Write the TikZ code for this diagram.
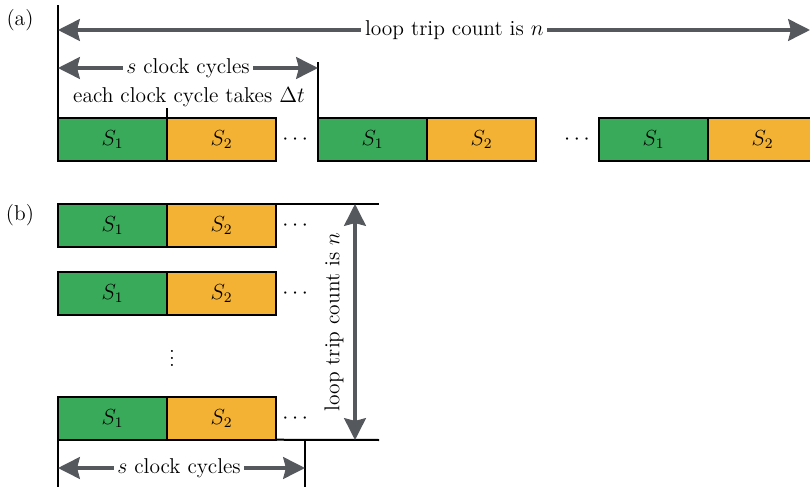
\documentclass[tikz,border=0pt]{standalone}
\usetikzlibrary{positioning,arrows.meta}

\definecolor{stagegreen}{RGB}{56,170,90}
\definecolor{stageorange}{RGB}{243,178,52}
\definecolor{spangray}{RGB}{85,88,92}

\begin{document}
\begin{tikzpicture}[x=0.55pt, y=-0.55pt, font=\fontsize{11.8}{14}\selectfont,
  stage/.style={draw, line width=1.1pt, minimum width=59.95pt, minimum height=23.5pt, inner sep=0pt, outer sep=0pt},
  sone/.style={stage, fill=stagegreen},
  stwo/.style={stage, fill=stageorange},
  span/.style={spangray, line width=1.7pt, {Stealth[length=12pt,width=12pt,inset=1.5pt]}-{Stealth[length=12pt,width=12pt,inset=1.5pt]}},
  limit/.style={line width=1.1pt},
  spanlabel/.style={fill=white, text=black, inner sep=2pt}]

\useasboundingbox (0,0) rectangle (810,487);

% (a) iterations one after another
\node (lbla) at (20,20) {(a)};

\node[sone, anchor=north west] (a1s1) at (58,118) {$S_1$};
\node[stwo, right=0pt of a1s1] (a1s2) {$S_2$};
\node[right=0pt of a1s2] (a1dots) {$\cdots$};

\node[sone, anchor=north west] (a2s1) at (318,118) {$S_1$};
\node[stwo, right=0pt of a2s1] (a2s2) {$S_2$};
\node[right=12pt of a2s2] (a2dots) {$\cdots$};

\node[sone, anchor=north west] (a3s1) at (599,118) {$S_1$};
\node[stwo, right=0pt of a3s1] (a3s2) {$S_2$};

\coordinate (atop) at (58,5);
\coordinate (aleft) at (58,30);
\coordinate (aright) at (810,30);
\coordinate (sleft) at (58,68);
\coordinate (sright) at (318,68);
\coordinate (stop) at (318,62);

\draw[limit] (a1s1.north west) -- (atop);
\draw[limit] (a2s1.north west) -- (stop);
\draw[limit] (a1s1.north east) -- ++(0,-10);

\draw[span] (aleft) -- (aright) node[spanlabel, pos=0.527] (ntrip) {loop trip count is $n$};
\draw[span] (sleft) -- (sright) node[spanlabel, pos=0.5] (scyc) {$s$ clock cycles};
\node (dtlabel) at (189,97) {each clock cycle takes $\Delta t$};

% (b) iterations side by side
\node (lblb) at (20,215) {(b)};

\node[sone, anchor=north west] (b1s1) at (58,204) {$S_1$};
\node[stwo, right=0pt of b1s1] (b1s2) {$S_2$};
\node[right=0pt of b1s2] (b1dots) {$\cdots$};

\node[sone, anchor=north west] (b2s1) at (58,272) {$S_1$};
\node[stwo, right=0pt of b2s1] (b2s2) {$S_2$};
\node[right=0pt of b2s2] (b2dots) {$\cdots$};

\node (bvdots) at (172,353) {$\vdots$};

\node[sone, anchor=north west] (b3s1) at (58,397) {$S_1$};
\node[stwo, right=0pt of b3s1] (b3s2) {$S_2$};
\node[right=0pt of b3s2] (b3dots) {$\cdots$};

\coordinate (btopr) at (379,204);
\coordinate (bbotr) at (379,440);
\coordinate (ntop) at (355,204);
\coordinate (nbot) at (355,440);
\coordinate (bl) at (58,487);
\coordinate (br) at (305,487);
\coordinate (bbr) at (305,440);
\coordinate (bsleft) at (58,468);
\coordinate (bsright) at (305,468);

\draw[limit] (b1s2.north east) -- (btopr);
\draw[limit] (b3s2.south east) -- (bbotr);
\draw[limit] (b3s1.south west) -- (bl);
\draw[limit] (bbr) -- (br);

\draw[span] (ntop) -- (nbot);
\node[rotate=90] (ntripb) at (334,322) {loop trip count is $n$};
\draw[span] (bsleft) -- (bsright) node[spanlabel, pos=0.49] (bscyc) {$s$ clock cycles};
\end{tikzpicture}
\end{document}
